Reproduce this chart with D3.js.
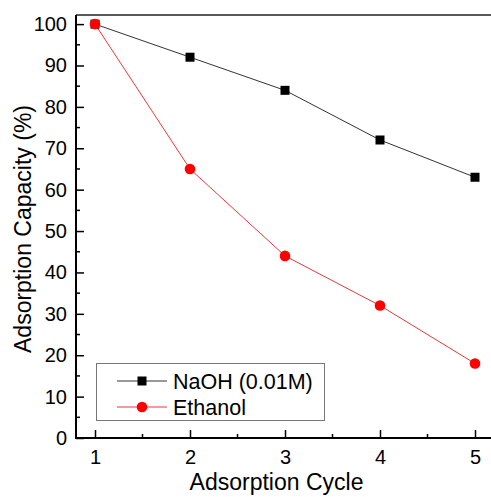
<!DOCTYPE html>
<html><head><meta charset="utf-8">
<script src="https://cdn.jsdelivr.net/npm/d3@7"></script>
<style>body{margin:0;background:#fff}svg text{font-family:"Liberation Sans",Arial,sans-serif}</style>
</head><body><svg id="c" width="491" height="497"></svg>
<script>
const cycles = [1, 2, 3, 4, 5];
const naoh = [100, 92, 84, 72, 63];
const ethanol = [100, 65, 44, 32, 18];
const seriesNames = ["NaOH (0.01M)", "Ethanol"];
const yTicks = [0, 10, 20, 30, 40, 50, 60, 70, 80, 90, 100];
const xTicks = [1, 2, 3, 4, 5];

const svg = d3.select("#c");
const L = 76, T = 15, B = 438, R = 494;
const x = d3.scaleLinear().domain([0.8, 5.2]).range([L, R]);
const y = d3.scaleLinear().domain([0, 102.2]).range([B, T]);

// frame top
svg.append("line").attr("x1", L).attr("x2", 491).attr("y1", T).attr("y2", T).attr("stroke", "#222").attr("stroke-width", 1.5);

// y axis
const ya = svg.append("g").attr("transform", `translate(${L},0)`)
  .call(d3.axisLeft(y).tickValues(yTicks).tickSize(-8).tickPadding(9));
ya.select(".domain").remove();
ya.selectAll(".tick line").attr("stroke", "#000").attr("stroke-width", 1.5);
ya.selectAll("text").attr("font-size", 20).attr("fill", "#000");
const yMinor = d3.range(5, 101, 10);
svg.append("g").selectAll("line").data(yMinor).join("line")
  .attr("x1", L).attr("x2", L + 4).attr("y1", d => y(d)).attr("y2", d => y(d))
  .attr("stroke", "#000").attr("stroke-width", 1.5);
svg.append("line").attr("x1", L).attr("x2", L).attr("y1", T).attr("y2", B + 1).attr("stroke", "#000").attr("stroke-width", 2);

// x axis
const xa = svg.append("g").attr("transform", `translate(0,${B})`)
  .call(d3.axisBottom(x).tickValues(xTicks).tickFormat(d3.format("d")).tickSize(-8).tickPadding(11.5));
xa.select(".domain").remove();
xa.selectAll(".tick line").attr("stroke", "#000").attr("stroke-width", 1.5);
xa.selectAll("text").attr("font-size", 20).attr("fill", "#000");
const xMinor = [1.5, 2.5, 3.5, 4.5];
svg.append("g").selectAll("line").data(xMinor).join("line")
  .attr("x1", d => x(d)).attr("x2", d => x(d)).attr("y1", B).attr("y2", B - 4)
  .attr("stroke", "#000").attr("stroke-width", 1.5);
svg.append("line").attr("x1", L - 1).attr("x2", 491).attr("y1", B).attr("y2", B).attr("stroke", "#000").attr("stroke-width", 2);

// titles
svg.append("text").attr("x", 276.5).attr("y", 490).attr("text-anchor", "middle").attr("font-size", 23).text("Adsorption Cycle");
svg.append("text").attr("transform", `translate(31,229) rotate(-90)`).attr("text-anchor", "middle").attr("font-size", 23).text("Adsorption Capacity (%)");

// lines
const line = d3.line().x((d, i) => x(cycles[i])).y(d => y(d));
svg.append("path").datum(naoh).attr("d", line).attr("fill", "none").attr("stroke", "#333").attr("stroke-width", 1);
svg.append("path").datum(ethanol).attr("d", line).attr("fill", "none").attr("stroke", "#e43a3a").attr("stroke-width", 1);
svg.append("g").selectAll("rect").data(naoh).join("rect")
  .attr("x", (d, i) => x(cycles[i]) - 4.5).attr("y", d => y(d) - 4.5).attr("width", 9).attr("height", 9).attr("fill", "#000");
svg.append("g").selectAll("circle").data(ethanol).join("circle")
  .attr("cx", (d, i) => x(cycles[i])).attr("cy", d => y(d)).attr("r", 5.3).attr("fill", "#f00");

// legend
const lg = svg.append("g");
lg.append("rect").attr("x", 96.5).attr("y", 363.5).attr("width", 228).attr("height", 57).attr("fill", "#fff").attr("stroke", "#777").attr("stroke-width", 1);
const ly = [381, 407];
lg.append("line").attr("x1", 117).attr("x2", 167).attr("y1", ly[0]).attr("y2", ly[0]).attr("stroke", "#333");
lg.append("rect").attr("x", 142 - 4.5).attr("y", ly[0] - 4.5).attr("width", 9).attr("height", 9).attr("fill", "#000");
lg.append("line").attr("x1", 117).attr("x2", 167).attr("y1", ly[1]).attr("y2", ly[1]).attr("stroke", "#e43a3a");
lg.append("circle").attr("cx", 142).attr("cy", ly[1]).attr("r", 5.3).attr("fill", "#f00");
lg.selectAll("text.lt").data(seriesNames).join("text").attr("class", "lt")
  .attr("x", 173).attr("y", (d, i) => ly[i] + 7.5).attr("font-size", 21.5).text(d => d);
</script></body></html>
